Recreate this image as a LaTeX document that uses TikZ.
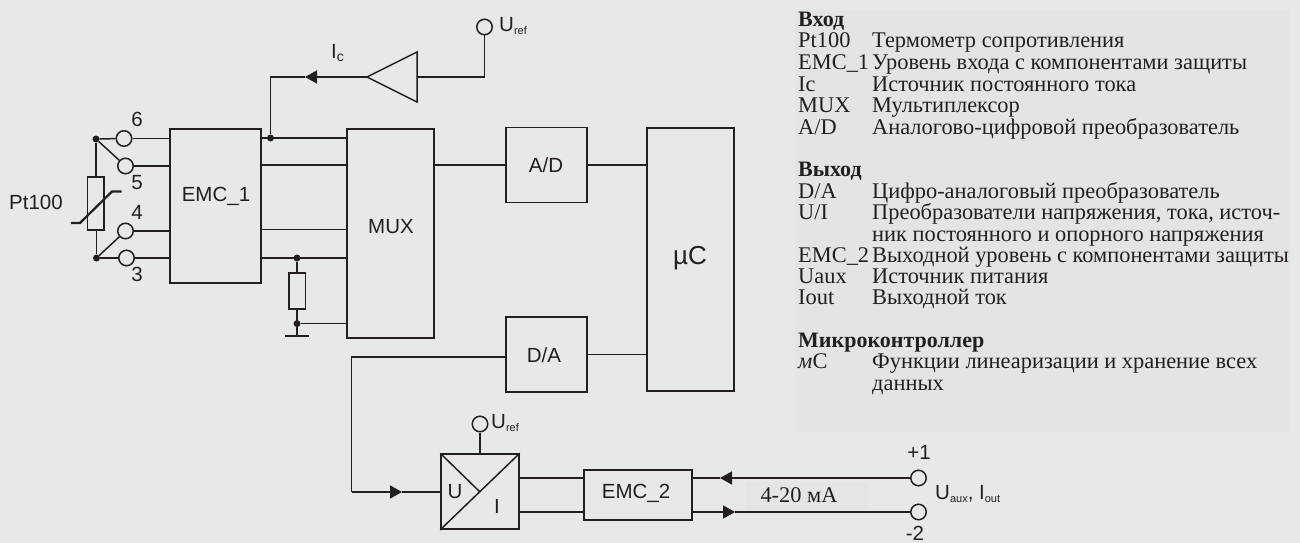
\documentclass[tikz,border=0pt]{standalone}
\usepackage{fontspec}
\setmainfont{Liberation Serif}
\newfontfamily\lsans{Liberation Sans}
\usetikzlibrary{arrows.meta,calc}
\definecolor{bgc}{RGB}{231,233,231}
\definecolor{panelc}{RGB}{228,228,228}
\definecolor{patchc}{RGB}{229,229,229}
\definecolor{ink}{RGB}{35,31,32}
\newcommand{\subsc}[1]{\raisebox{-3pt}{\fontsize{11}{11}\selectfont #1}}
\newcommand{\tabrow}[4]{%
  \node[tabtext] (#1a) at (798,#2) {#3};
  \node[tabtext] (#1b) at (872,#2) {#4};}
\tikzset{
  wire/.style={draw=ink,line width=1.5pt},
  thick wire/.style={draw=ink,line width=2.2pt},
  box/.style={draw=ink,line width=1.5pt,rectangle,inner sep=0pt},
  term/.style={draw=ink,line width=1.5pt,circle,inner sep=0pt,minimum size=15.5pt},
  jdot/.style={fill=ink,circle,inner sep=0pt,minimum size=7pt},
  lab/.style={text=ink,font=\lsans\fontsize{20.5}{22}\selectfont,inner sep=0pt},
  tabtext/.style={text=ink,font=\fontsize{22.4}{24}\selectfont,anchor=base west,inner sep=0pt},
  tabhead/.style={text=ink,font=\bfseries\fontsize{22}{24}\selectfont,anchor=base west,inner sep=0pt},
  arr/.style={-{Triangle[length=12pt,width=13pt]},draw=ink,line width=1.5pt},
}
\begin{document}
\begin{tikzpicture}[x=1pt,y=-1pt]
\useasboundingbox (0,0) rectangle (1300,543);
\fill[bgc] (0,0) rectangle (1300,543);
\fill[panelc] (795,10) rectangle (1290,432);
\fill[patchc] (745,482) rectangle (868,510);

% boxes
\node[box,minimum width=91pt,minimum height=154pt] (emc1) at (215.5,206) {};
\node[box,minimum width=87pt,minimum height=209pt] (mux) at (390.5,233.5) {};
\node[box,minimum width=81pt,minimum height=75pt] (ad) at (546.5,165) {};
\node[box,minimum width=81pt,minimum height=75pt] (da) at (546.5,354.5) {};
\node[box,minimum width=87pt,minimum height=263pt] (uc) at (690.5,259.5) {};
\node[box,minimum width=78pt,minimum height=75pt] (ui) at (480,491.5) {};
\node[box,minimum width=108pt,minimum height=50pt] (emc2) at (638,495) {};
\node[box,minimum width=16.5pt,minimum height=53pt] (pt) at (95.5,203.5) {};
\node[box,minimum width=16.5pt,minimum height=36pt] (rs) at (297,291) {};

% box labels
\node[lab] (emc1t) at (216,196) {EMC\_1};
\node[lab] (muxt) at (391,227) {MUX};
\node[lab] (adt) at (546,165) {A/D};
\node[lab] (dat) at (544,355) {D/A};
\node[lab,font=\lsans\fontsize{26}{28}\selectfont] (uct) at (690,258) {µC};
\node[lab] (emc2t) at (636,493) {EMC\_2};
\node[lab] (ptt) at (36,202) {Pt100};

% terminals
\node[term] (t6) at (124,138.5) {};
\node[term] (t5) at (125.5,166) {};
\node[term] (t4) at (125.5,231) {};
\node[term] (t3) at (126.5,258) {};
\node[jdot] (d6) at (96,139) {};
\node[jdot] (d3) at (96.5,258) {};
\node[lab] (n6) at (137,119.5) {6};
\node[lab] (n5) at (137,183) {5};
\node[lab] (n4) at (137,212) {4};
\node[lab] (n3) at (137,274.5) {3};

% input side wiring
\draw[wire] (d6) -- (t6);
\draw[wire] (d6) -- (t5);
\draw[wire] (d3) -- (t3);
\draw[wire] (d3) -- (t4);
\draw[wire] (t6) -- (t6 -| emc1.west);
\draw[wire] (t5) -- (t5 -| emc1.west);
\draw[wire] (t4) -- (t4 -| emc1.west);
\draw[wire] (t3) -- (t3 -| emc1.west);
\draw[wire] (d6) -- (d6 |- pt.north);
\draw[wire] (d3) -- (d3 |- pt.south);

% PTC slash
\coordinate (s1) at (71,223);
\coordinate (s2) at (80,223);
\coordinate (s3) at (112,191.5);
\coordinate (s4) at (121.5,191.5);
\draw[thick wire] (s1) -- (s2) -- (s3) -- (s4);

% EMC1 to MUX
\coordinate (m1) at (270.5,138);
\coordinate (m4) at (297,258);
\node[jdot] (dm1) at (m1) {};
\node[jdot] (dm4) at (m4) {};
\draw[wire] (m1 -| emc1.east) -- (m1 -| mux.west);
\draw[wire] (emc1.east |- 0,165) -- (mux.west |- 0,165);
\draw[wire] (emc1.east |- 0,229.5) -- (mux.west |- 0,229.5);
\draw[wire] (emc1.east |- m4) -- (m4 -| mux.west);

% shunt & ground
\node[jdot] (dg) at (297,323.6) {};
\coordinate (gnd) at (297,336);
\coordinate (gl) at (285,336);
\coordinate (gr) at (309,336);
\draw[wire] (dm4) -- (rs);
\draw[wire] (rs) -- (gnd);
\draw[wire] (dg) -- (dg -| mux.west);
\draw[thick wire] (gl) -- (gr);

% constant current source
\coordinate (tapex) at (367,77);
\coordinate (tb) at (417,77);
\draw[wire,line join=miter] (tapex) -- (417,52) -- (417,102) -- cycle;
\node[term] (uref1) at (484.5,27) {};
\node[lab,anchor=west] (uref1t) at (499,26) {U\subsc{ref}};
\node[lab,anchor=west] (ict) at (331,53) {I\raisebox{-3pt}{\fontsize{14}{14}\selectfont c}};
\coordinate (a1) at (305,77);
\coordinate (corner1) at (270.5,77);
\draw[wire] (uref1) |- (tb);
\draw[arr] (tapex) -- (a1);
\draw[wire] (a1) -- (corner1) -- (dm1);

% main chain
\draw[wire] (mux.east |- ad.west) -- (ad.west);
\draw[wire] (ad.east) -- (ad.east -| uc.west);
\draw[wire] (da.east) -- (da.east -| uc.west);

% D/A to U/I
\coordinate (c2) at (351.5,357);
\coordinate (c3) at (351.5,492);
\coordinate (a2) at (402,492);
\draw[wire] (da.west |- c2) -- (c2) -- (c3);
\draw[arr] (c3) -- (a2);
\draw[wire] (a2) -- (a2 -| ui.west);

% U/I internals
\coordinate (di) at (480,492);
\draw[wire] (ui.north west) -- (di);
\draw[wire] (ui.south west) -- (ui.north east);
\node[lab] (ut) at (455,492) {U};
\node[lab] (it) at (497,506) {I};
\node[term] (uref2) at (480,424) {};
\node[lab,anchor=west] (uref2t) at (491,423) {U\subsc{ref}};
\draw[wire] (uref2) -- (uref2 |- ui.north);

% output
\coordinate (o1) at (519,478);
\coordinate (o2) at (519,512);
\draw[wire] (o1) -- (o1 -| emc2.west);
\draw[wire] (o2) -- (o2 -| emc2.west);
\node[term] (tp) at (918.5,478) {};
\node[term] (tm) at (918.5,512) {};
\coordinate (a3) at (720,478);
\coordinate (a4) at (735,512);
\draw[arr] (tp) -- (a3);
\draw[wire] (a3) -- (a3 -| emc2.east);
\draw[arr] (tm -| emc2.east) -- (a4);
\draw[wire] (a4) -- (tm);
\node[lab] (pl) at (919,452) {+1};
\node[lab] (mi) at (915,533) {-2};
\node[lab,anchor=west] (uaux) at (935,494) {U\subsc{aux}, I\subsc{out}};
\node[text=ink,font=\fontsize{22.4}{24}\selectfont,inner sep=0pt] (ma) at (799,495) {4-20 мА};

% legend
\node[tabhead] (h1) at (798,27) {Вход};
\tabrow{r1}{48}{Pt100}{Термометр сопротивления}
\tabrow{r2}{70}{EMC\_1}{Уровень входа с компонентами защиты}
\tabrow{r3}{91}{Ic}{Источник постоянного тока}
\tabrow{r4}{112}{MUX}{Мультиплексор}
\tabrow{r5}{134}{A/D}{Аналогово-цифровой преобразователь}
\node[tabhead] (h2) at (798,176) {Выход};
\tabrow{r6}{198}{D/A}{Цифро-аналоговый преобразователь}
\tabrow{r7}{219}{U/I}{Преобразователи напряжения, тока, источ-}
\node[tabtext] (r8b) at (872,241) {ник постоянного и опорного напряжения};
\tabrow{r9}{262}{EMC\_2}{Выходной уровень с компонентами защиты}
\tabrow{r10}{283}{Uaux}{Источник питания}
\tabrow{r11}{304}{Iout}{Выходной ток}
\node[tabhead] (h3) at (798,347) {Микроконтроллер};
\tabrow{r12}{368}{\textit{м}C}{Функции линеаризации и хранение всех}
\node[tabtext] (r13b) at (872,390) {данных};
\end{tikzpicture}
\end{document}
